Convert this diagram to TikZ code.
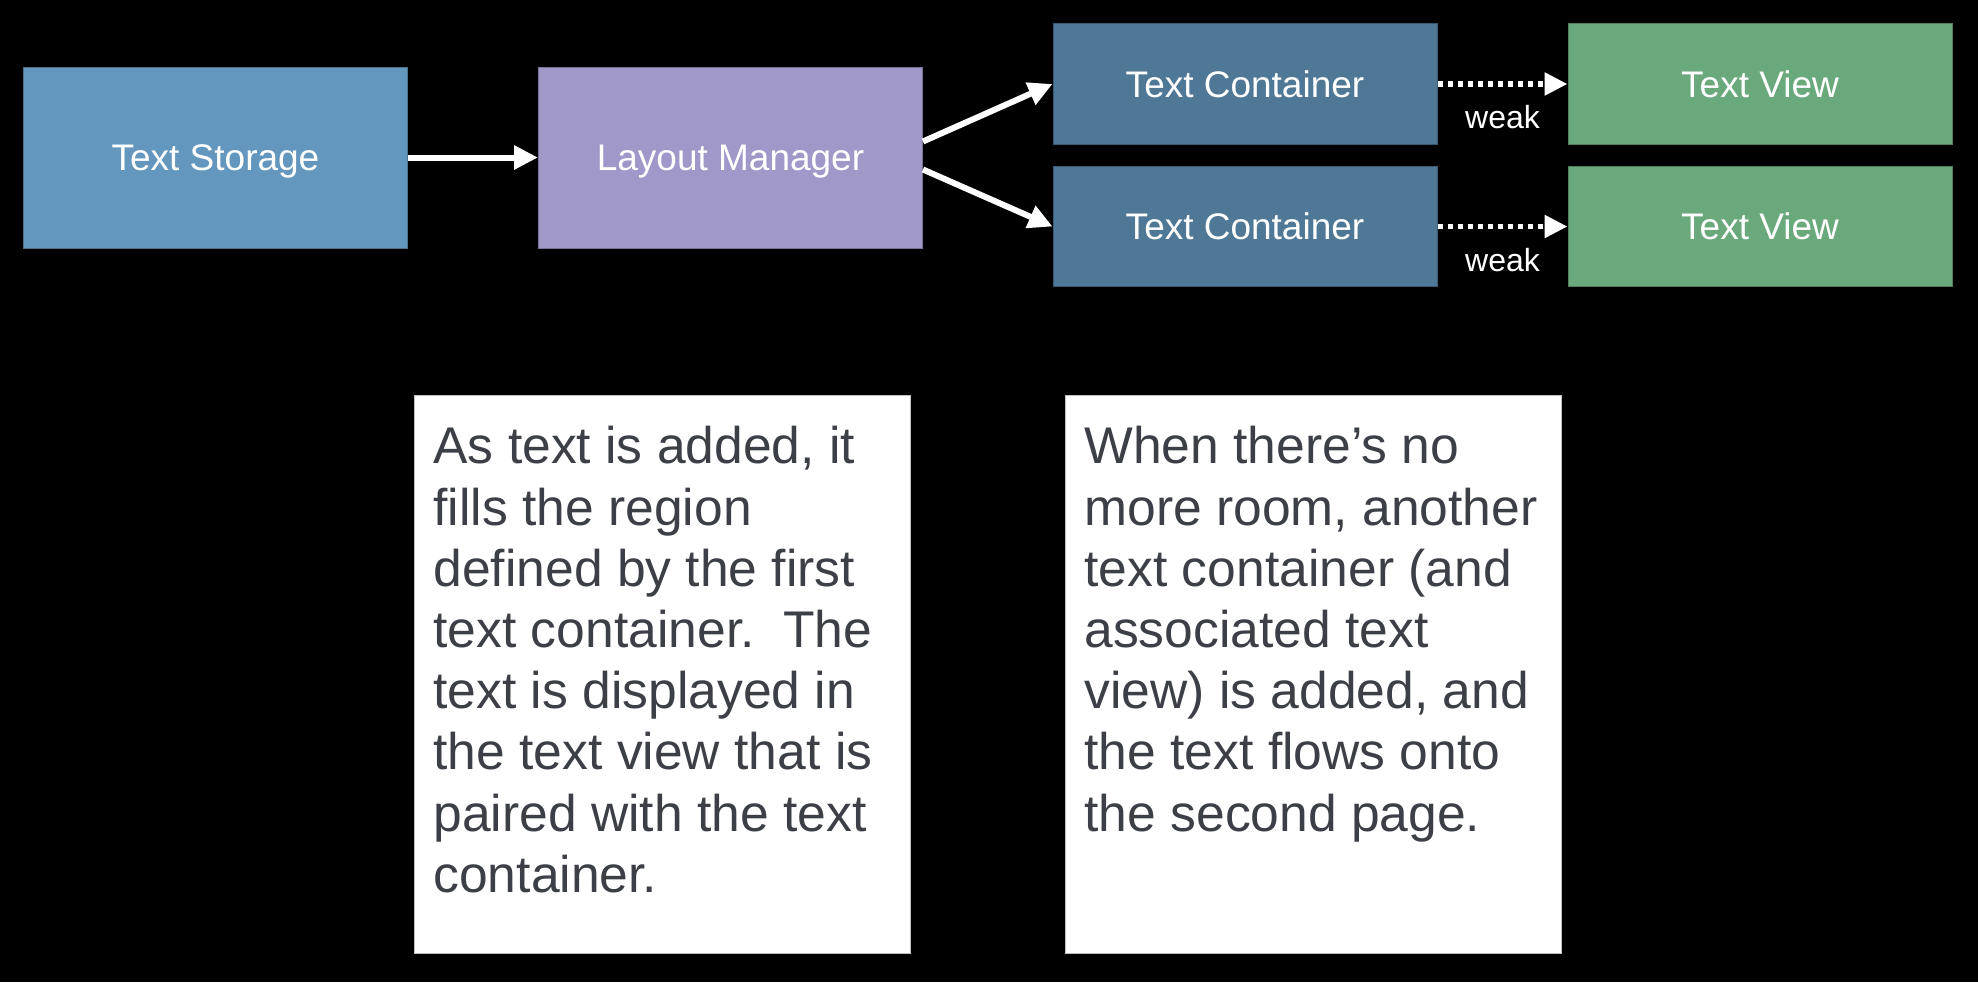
\documentclass[tikz,border=0pt]{standalone}
\usepackage{fontspec}
\setmainfont{Liberation Sans}
\usetikzlibrary{arrows.meta,positioning}

\definecolor{storageblue}{RGB}{100,151,189}
\definecolor{layoutpurple}{RGB}{159,152,200}
\definecolor{containerblue}{RGB}{79,119,150}
\definecolor{viewgreen}{RGB}{106,169,123}
\definecolor{notegray}{RGB}{60,64,70}

\tikzset{
  block/.style={rectangle, fill=#1, draw=#1!75!black, line width=0.5pt, text=white,
    minimum width=192pt, minimum height=90.5pt, inner sep=0pt,
    text height=13.2pt, text depth=0pt,
    font=\fontsize{18.5}{21}\selectfont},
  slim/.style={minimum height=60.25pt},
  note/.style={rectangle, fill=white, draw=black!25, line width=0.5pt, anchor=north west,
    inner xsep=9.5pt, inner ysep=15.5pt, text=notegray,
    font=\fontsize{25.8}{30.6}\selectfont},
  link/.style={white, line width=3pt},
  weakline/.style={white, line width=2.75pt, dash pattern=on 2.5pt off 2.5pt,
    >={Triangle[length=11.5pt,width=11pt]}},
  weaklabel/.style={text=white, font=\fontsize{16}{18}\selectfont}
}

\begin{document}
\begin{tikzpicture}[x=0.5pt, y=-0.5pt, >={Triangle[length=12pt,width=11.5pt]}, node distance=257.5pt]
    \fill [black] (0,0) rectangle (1978,982);
    \useasboundingbox (0,0) rectangle (1978,982);

    % Nodes {ts, lm, tc1, tc2, tv1, tv2}
    \node [block=storageblue]          (ts)  at (215.5,157.5)  {Text Storage};
    \node [block=layoutpurple]         (lm)  [right of=ts]     {Layout Manager};
    \node [block=containerblue, slim]  (tc1) at (1245,84)      {Text Container};
    \node [block=containerblue, slim]  (tc2) [below of=tc1, node distance=71.25pt] {Text Container};
    \node [block=viewgreen, slim]      (tv1) [right of=tc1]    {Text View};
    \node [block=viewgreen, slim]      (tv2) [right of=tc2]    {Text View};

    % Notes
    \node [note] (n1) at (414,395) {\parbox[t][248pt][t]{229pt}{\raggedright\frenchspacing
        As text is added, it\\
        fills the region\\
        defined by the first\\
        text container.~ The\\
        text is displayed in\\
        the text view that is\\
        paired with the text\\
        container.}};
    \node [note] (n2) at (1065,395) {\parbox[t][248pt][t]{229pt}{\raggedright\frenchspacing
        When there’s no\\
        more room, another\\
        text container (and\\
        associated text\\
        view) is added, and\\
        the text flows onto\\
        the second page.}};

    % Paths
    \path [->] (ts) edge [link] (lm);
    \path [->] ([yshift=8pt]lm.east)  edge [link] (tc1.west);
    \path [->] ([yshift=-6pt]lm.east) edge [link] (tc2.west);
    \path [->] (tc1) edge [weakline] node [below=6pt, weaklabel] {weak} (tv1);
    \path [->] (tc2) edge [weakline] node [below=6pt, weaklabel] {weak} (tv2);

\end{tikzpicture}
\end{document}
